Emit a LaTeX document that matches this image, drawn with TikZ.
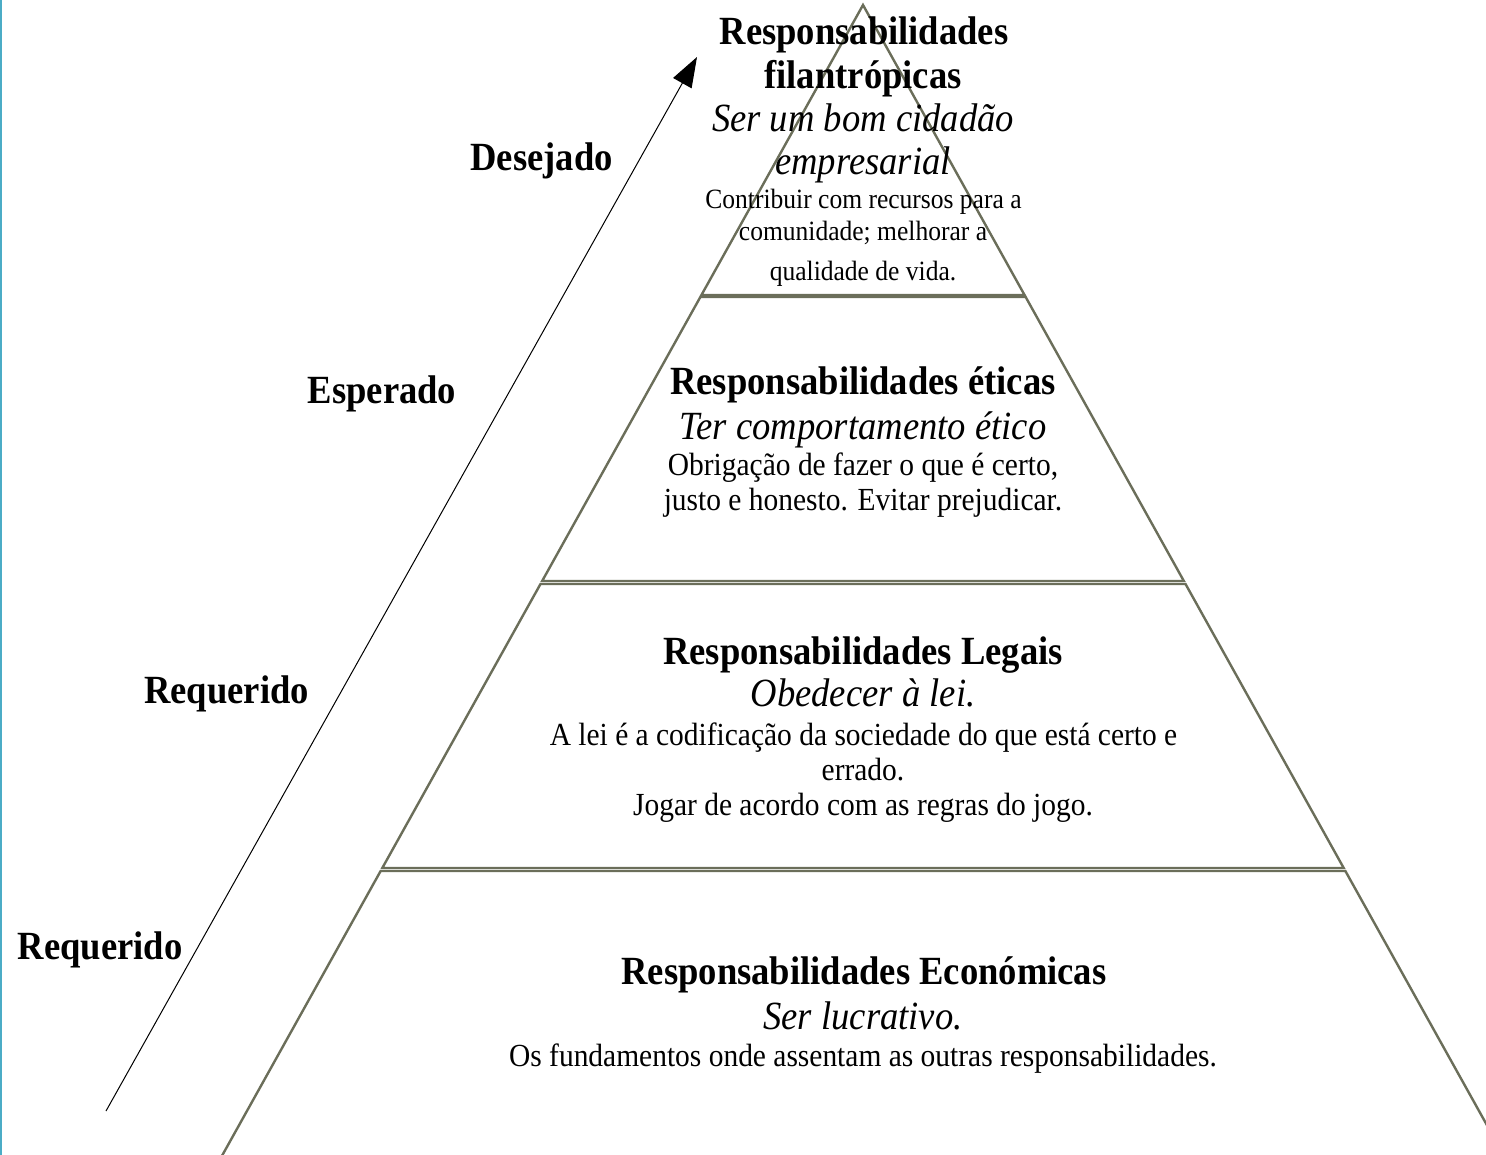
\documentclass[tikz,border=0pt]{standalone}
\usepackage{fontspec}
\setmainfont{Liberation Serif}[FakeStretch=0.915]
\usetikzlibrary{arrows.meta}
\definecolor{pyr}{RGB}{107,110,90}
\definecolor{teal}{RGB}{75,172,198}
\tikzset{
  layer/.style={draw=pyr, line width=2.4pt, line join=miter},
  ttl/.style={anchor=base, inner sep=0pt, font=\fontsize{40}{45}\selectfont\bfseries},
  sub/.style={anchor=base, inner sep=0pt, font=\fontsize{40}{45}\selectfont\itshape},
  body/.style={anchor=base, inner sep=0pt, font=\fontsize{32.2}{38}\selectfont},
  small/.style={anchor=base, inner sep=0pt, font=\fontsize{27.9}{33}\selectfont},
  lvl/.style={anchor=base, inner sep=0pt, font=\fontsize{40}{45}\selectfont\bfseries},
  axis/.style={draw=black, line width=1pt, -{Triangle[length=30pt,width=21pt]}}
}
\begin{document}
\begin{tikzpicture}[x=1pt,y=-1pt]
\useasboundingbox (0,0) rectangle (1486,1155);
\begin{scope}
\clip (0,0) rectangle (1486,1155);
% pyramid layers (left slope -0.557, right slope +0.557 from apex 863,5)
\draw[layer] (863,5) -- ({863-0.557*290},295) -- ({863+0.557*290},295) -- cycle;
\draw[layer] ({863-0.557*292},297) -- ({863+0.557*292},297) -- ({863+0.557*576},581) -- ({863-0.557*576},581) -- cycle;
\draw[layer] ({863-0.557*579},584) -- ({863+0.557*579},584) -- ({863+0.557*863},868) -- ({863-0.557*863},868) -- cycle;
\draw[layer] ({863-0.557*866},871) -- ({863+0.557*866},871) -- ({863+0.557*1195},1200) -- ({863-0.557*1195},1200) -- cycle;
% left accent line
\draw[teal, line width=2.2pt] (1,0) -- (1,1155);
\end{scope}

% axis arrow
\coordinate (axs) at (106,1111);
\coordinate (axe) at (697,57);
\draw[axis] (axs) -- (axe);

% level labels
\node[lvl] (l1) at (541.5,171) {Desejado};
\node[lvl] (l2) at (382,404) {Esperado};
\node[lvl] (l3) at (226.5,703) {Requerido};
\node[lvl] (l4) at (100,959) {Requerido};

% top: philanthropic
\node[ttl] (p1) at (864,45) {Responsabilidades};
\node[ttl] (p2) at (863,89) {filantrópicas};
\node[sub] (p3) at (863,132) {Ser um bom cidadão};
\node[sub] (p4) at (863,175) {empresarial};
\node[small] (p5) at (863.5,209) {Contribuir com recursos para a};
\node[small] (p6) at (863,241) {comunidade; melhorar a};
\node[small] (p7) at (863,281) {qualidade de vida.};

% ethical
\node[ttl] (e1) at (863,395) {Responsabilidades éticas};
\node[sub] (e2) at (863,439) {Ter comportamento ético};
\node[body] (e3) at (863,475) {Obrigação de fazer o que é certo,};
\node[body] (e4) at (863,510) {justo e honesto. Evitar prejudicar.};

% legal
\node[ttl] (g1) at (863,664) {Responsabilidades Legais};
\node[sub] (g2) at (863,706) {Obedecer à lei.};
\node[body] (g3) at (863.5,745) {A lei é a codificação da sociedade do que está certo e};
\node[body] (g4) at (863,780) {errado.};
\node[body] (g5) at (863,815) {Jogar de acordo com as regras do jogo.};

% economic
\node[ttl] (c1) at (864,984) {Responsabilidades Económicas};
\node[sub] (c2) at (863,1029) {Ser lucrativo.};
\node[body] (c3) at (863,1066) {Os fundamentos onde assentam as outras responsabilidades.};
\end{tikzpicture}
\end{document}
